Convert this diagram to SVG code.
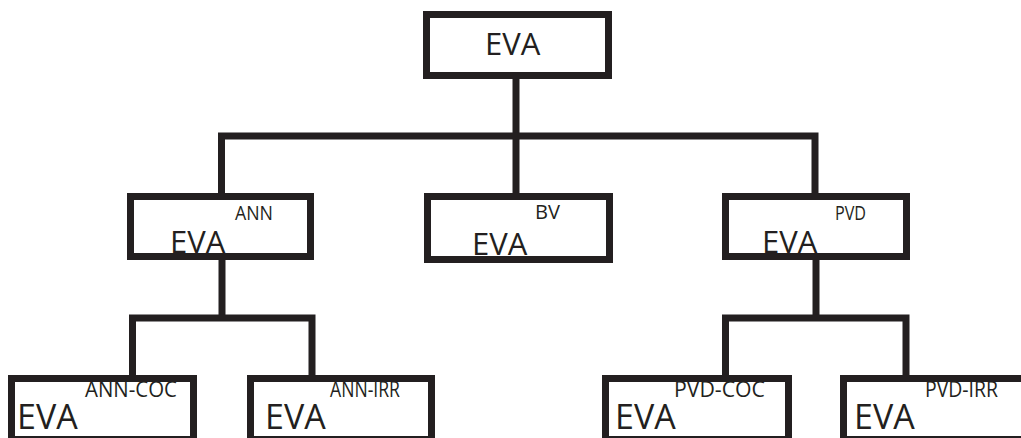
<svg xmlns="http://www.w3.org/2000/svg" width="1021" height="438" viewBox="0 0 1021 438">
<style>
.box{fill:#fff;stroke:#231f20;stroke-width:7}
.ln{fill:none;stroke:#231f20;stroke-width:7;stroke-linejoin:miter;stroke-linecap:butt}
.t{font-family:"Open Sans","Noto Sans","Liberation Sans",sans-serif;fill:#231f20}
.sp{font-family:"Liberation Sans Narrow","Open Sans","Liberation Sans",sans-serif;fill:#231f20}
.m{font-size:31px}
.m3{font-size:34px}
.s{font-size:20px}
.s3{font-size:21px}
</style>
<rect width="1021" height="438" fill="#fff"/>
<g id="connectors">
<line class="ln" x1="516" y1="79" x2="516" y2="194"/>
<polyline class="ln" points="221.5,194 221.5,136 815,136 815,194"/>
<line class="ln" x1="222" y1="259" x2="222" y2="318"/>
<polyline class="ln" points="132.5,376 132.5,318 312,318 312,376"/>
<line class="ln" x1="816" y1="259" x2="816" y2="318"/>
<polyline class="ln" points="725.5,376 725.5,318 906,318 906,376"/>
</g>
<g id="n-eva">
<rect class="box" x="426.5" y="14.5" width="182" height="61"/>
<text class="t m" x="485" y="55">EVA</text>
</g>
<g id="n-ann">
<rect class="box" x="130.5" y="196.5" width="180" height="60"/>
<text class="t m" x="170" y="253">EVA</text>
<text class="sp s" x="235" y="220" textLength="38" lengthAdjust="spacingAndGlyphs">ANN</text>
</g>
<g id="n-bv">
<rect class="box" x="427.5" y="196.5" width="182" height="63"/>
<text class="t m" x="472" y="255">EVA</text>
<text class="sp s" x="535" y="219" textLength="25" lengthAdjust="spacingAndGlyphs">BV</text>
</g>
<g id="n-pvd">
<rect class="box" x="725.5" y="196.5" width="181" height="60"/>
<text class="t m" x="762" y="253">EVA</text>
<text class="sp s" x="835" y="220" textLength="31" lengthAdjust="spacingAndGlyphs">PVD</text>
</g>
<g id="n-ann-coc">
<rect class="box" x="11.5" y="378.5" width="182" height="61"/>
<text class="t m3" x="17" y="429">EVA</text>
<text class="sp s3" x="85" y="397" textLength="92" lengthAdjust="spacingAndGlyphs">ANN-COC</text>
</g>
<g id="n-ann-irr">
<rect class="box" x="250.5" y="378.5" width="181" height="61"/>
<text class="t m3" x="265" y="429">EVA</text>
<text class="sp s3" x="330" y="397" textLength="70" lengthAdjust="spacingAndGlyphs">ANN-IRR</text>
</g>
<g id="n-pvd-coc">
<rect class="box" x="605.5" y="378.5" width="183" height="61"/>
<text class="t m3" x="615" y="429">EVA</text>
<text class="sp s3" x="674" y="397" textLength="91" lengthAdjust="spacingAndGlyphs">PVD-COC</text>
</g>
<g id="n-pvd-irr">
<rect class="box" x="843.5" y="378.5" width="185" height="61"/>
<text class="t m3" x="854" y="429">EVA</text>
<text class="sp s3" x="925" y="397" textLength="73" lengthAdjust="spacingAndGlyphs">PVD-IRR</text>
</g>
</svg>
